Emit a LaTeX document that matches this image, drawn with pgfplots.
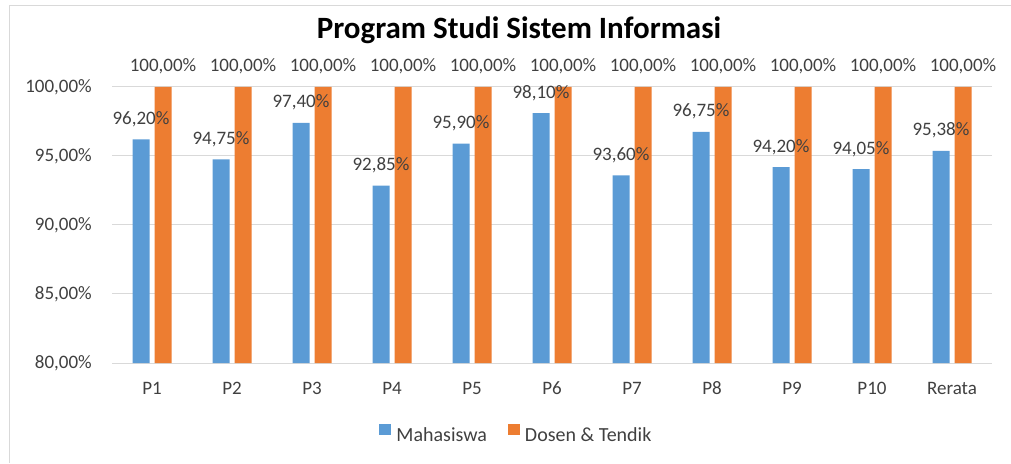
\documentclass[border=0pt]{standalone}
\usepackage{pgfplots}
\pgfplotsset{compat=1.18}
\usepackage{fontspec}
\setmainfont{Carlito}
\definecolor{cblue}{HTML}{5B9BD5}
\definecolor{corange}{HTML}{ED7D31}
\definecolor{cgrid}{HTML}{D9D9D9}
\definecolor{ctext}{HTML}{404040}
\newcommand{\lblfont}{\fontsize{19}{22}\selectfont}
\newcommand{\legfont}{\fontsize{20}{23}\selectfont}
\begin{document}
\begin{tikzpicture}[x=1pt,y=1pt]
\useasboundingbox (0,0) rectangle (1011,463);
\draw[cgrid, line width=1.2pt] (9.5,0) -- (9.5,457.5) -- (1011,457.5);
\node[anchor=base, font=\fontsize{31}{35}\selectfont\bfseries] at (519,424) {Program Studi Sistem Informasi};
\begin{axis}[
  at={(112pt,100pt)}, anchor=south west, scale only axis,
  width=880pt, height=276pt,
  xmin=-0.5, xmax=10.5, ymin=80, ymax=100,
  ybar, bar width=17pt,
  clip mode=individual,
  /pgf/number format/assume math mode=true,
  axis line style={draw=none},
  major tick length=0pt,
  xtick={0,1,2,3,4,5,6,7,8,9,10},
  xticklabels={P1,P2,P3,P4,P5,P6,P7,P8,P9,P10,Rerata},
  ytick={80,85,90,95,100},
  ymajorgrids, major grid style={cgrid, line width=1pt},
  yticklabel={\pgfmathprintnumber[fixed,fixed zerofill,precision=2,use comma]{\tick}\%},
  yticklabel style={font=\lblfont, text=ctext, anchor=east, inner sep=0pt, xshift=-20pt},
  xticklabel style={font=\lblfont, text=ctext, anchor=base, inner sep=0pt, yshift=-31pt},
  nodes near coords={\pgfmathprintnumber[fixed,fixed zerofill,precision=2,use comma]{\pgfplotspointmeta}\%},
  every node near coord/.append style={font=\lblfont, text=ctext, anchor=base, inner sep=0pt, yshift=15pt},
  legend style={draw=none, fill=none, at={(0.459,-0.257)}, anchor=center,
    font=\legfont, text=ctext, nodes={inner sep=1pt},
    /tikz/every even column/.append style={column sep=20pt}},
  legend columns=2,
  reverse legend,
]
\addplot[fill=corange, draw=none, bar shift=11pt, legend image code/.code={\fill[corange] (0pt,1pt) rectangle (12pt,12pt); \path (16pt,6pt);}] coordinates {
 (0,100) (1,100) (2,100) (3,100) (4,100) (5,100) (6,100) (7,100) (8,100) (9,100) (10,100)};
\addplot[fill=cblue, draw=none, bar shift=-11pt, legend image code/.code={\fill[cblue] (0pt,1pt) rectangle (12pt,12pt); \path (16pt,6pt);}] coordinates {
 (0,96.20) (1,94.75) (2,97.40) (3,92.85) (4,95.90) (5,98.10) (6,93.60) (7,96.75) (8,94.20) (9,94.05) (10,95.38)};
\legend{Dosen \& Tendik, Mahasiswa}
\end{axis}
\end{tikzpicture}
\end{document}
